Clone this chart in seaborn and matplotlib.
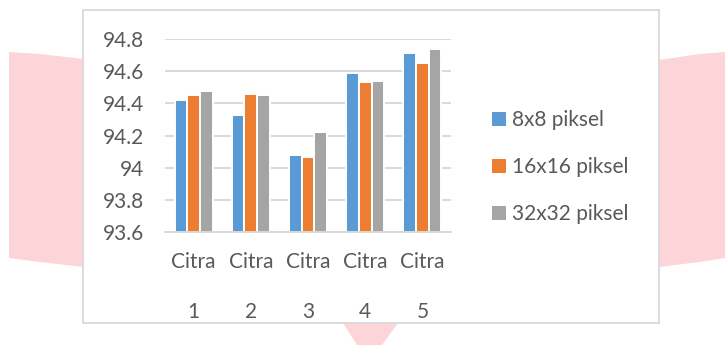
import matplotlib
matplotlib.use("Agg")
import matplotlib.pyplot as plt
from matplotlib.patches import Polygon, Rectangle
import seaborn as sns
import pandas as pd

# Accuracy (%) per image for each block size
images = ["Citra\n1", "Citra\n2", "Citra\n3", "Citra\n4", "Citra\n5"]
series = ["8x8 piksel", "16x16 piksel", "32x32 piksel"]
acc_8x8 = [94.42, 94.33, 94.08, 94.59, 94.71]
acc_16x16 = [94.45, 94.46, 94.07, 94.53, 94.65]
acc_32x32 = [94.48, 94.45, 94.22, 94.54, 94.74]
y_ticks = [93.6, 93.8, 94.0, 94.2, 94.4, 94.6, 94.8]
y_tick_labels = ["93.6", "93.8", "94", "94.2", "94.4", "94.6", "94.8"]

colors = ["#5B9BD5", "#ED7D31", "#A5A5A5"]
text_color = "#595959"
grid_color = "#D9D9D9"
pink = "#FDD5D8"

df = pd.DataFrame({
    "Citra": images * 3,
    "Ukuran": [s for s in series for _ in images],
    "Akurasi": acc_8x8 + acc_16x16 + acc_32x32,
})

sns.set_theme(style="white")
plt.rcParams["font.family"] = ["Lato", "DejaVu Sans"]

W, H = 725, 345
fig = plt.figure(figsize=(W / 100, H / 100), dpi=100)
fig.patch.set_facecolor("white")


def fx(x):
    return x / W


def fy(y):
    return 1 - y / H


# soft pink band behind the chart frame
left_band = [(9, 52), (40, 54), (83, 59), (83, 267), (40, 262), (9, 258)]
right_band = [(659, 60), (700, 54), (725, 52), (725, 258), (700, 262), (659, 267)]
bottom_tip = [(343, 323), (398, 323), (382, 345), (357, 345)]
for pts in (left_band, right_band, bottom_tip):
    fig.add_artist(Polygon([(fx(x), fy(y)) for x, y in pts], closed=True,
                           transform=fig.transFigure, facecolor=pink,
                           edgecolor="none", zorder=0))

# white chart frame
fig.add_artist(Rectangle((fx(83), fy(323)), fx(659) - fx(83), fy(10) - fy(323),
                         transform=fig.transFigure, facecolor="white",
                         edgecolor=grid_color, linewidth=1.3, zorder=1))

ax = fig.add_axes([fx(165), fy(232.3), fx(451) - fx(165), fy(39) - fy(232.3)])
ax.set_zorder(2)
ax.patch.set_alpha(0)

sns.barplot(data=df, x="Citra", y="Akurasi", hue="Ukuran", palette=colors,
            saturation=1, width=0.665, edgecolor="white", linewidth=1.4,
            ax=ax, errorbar=None)

ax.set_ylim(93.6, 94.8)
ax.set_yticks(y_ticks)
ax.set_yticklabels(y_tick_labels)
ax.set_xlabel("")
ax.set_ylabel("")
ax.yaxis.grid(True, color=grid_color, linewidth=1.4)
ax.set_axisbelow(True)
for side in ("top", "right", "left"):
    ax.spines[side].set_visible(False)
ax.spines["bottom"].set_color(grid_color)
ax.spines["bottom"].set_linewidth(1.4)
ax.tick_params(axis="both", length=0, labelsize=15, labelcolor=text_color)
ax.tick_params(axis="y", pad=15)
ax.tick_params(axis="x", pad=14)
for lbl in ax.get_xticklabels():
    lbl.set_linespacing(2.9)

handles, labels = ax.get_legend_handles_labels()
ax.legend_.remove()
leg = fig.legend(handles, labels, loc="center left",
                 bbox_to_anchor=(fx(492), fy(167)), frameon=False,
                 fontsize=15, labelcolor=text_color, handlelength=0.65,
                 handleheight=0.65, handletextpad=0.3, labelspacing=1.3,
                 borderaxespad=0, borderpad=0)
for h in leg.legend_handles:
    h.set_edgecolor("none")

fig.savefig("out.png", dpi=100, facecolor="white")
